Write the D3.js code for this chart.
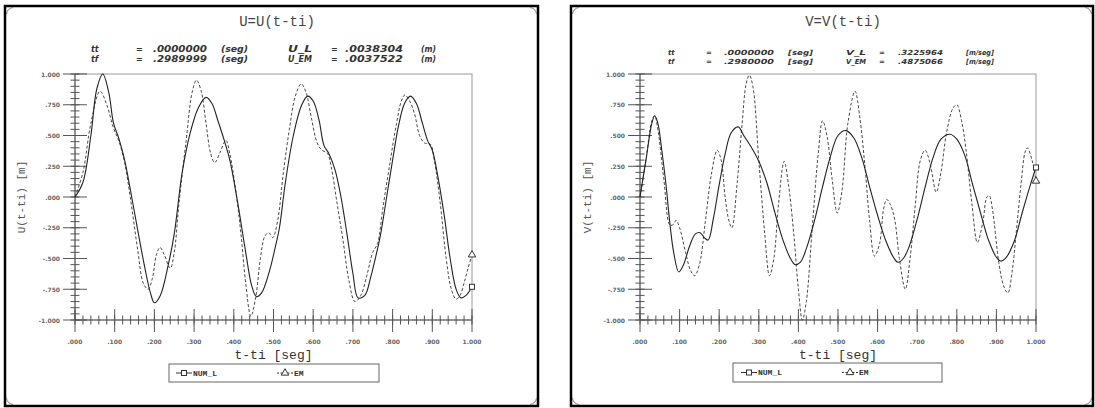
<!DOCTYPE html>
<html>
<head>
<meta charset="utf-8">
<script src="https://cdn.jsdelivr.net/npm/d3@7"></script>
<style>
  * { margin: 0; padding: 0; }
  body { background: #fff; }
  svg { display: block; }
  .mono { font-family: 'Liberation Mono', 'DejaVu Sans Mono', monospace; }
  .tick-label { font-family: 'DejaVu Sans', sans-serif; font-size: 6px; font-weight: bold; fill: #666; }
  .info { font-family: 'DejaVu Sans', sans-serif; font-style: italic; font-weight: bold; fill: #333; }
</style>
</head>
<body>
<svg id="chart" width="1095" height="408"></svg>
<script>
// ---- U panel (left) ----
const uNumT = [0, .02, .04, .055, .07, .085, .097, .11, .125, .14, .158, .175, .19, .2, .215, .235, .25, .27, .29, .31, .33, .345, .36, .375, .39, .41, .43, .445, .457, .47, .49, .505, .515, .53, .55, .57, .586, .6, .615, .627, .64, .655, .67, .685, .7, .713, .73, .745, .76, .77, .785, .8, .815, .83, .845, .86, .875, .888, .9, .915, .93, .945, .96, .972, .985, 1];
const uNumV = [0, .12, .5, .88, 1, .85, .6, .48, .3, .05, -.27, -.56, -.78, -.86, -.8, -.55, -.3, .2, .52, .72, .81, .76, .62, .47, .3, -.05, -.45, -.72, -.81, -.78, -.6, -.4, -.25, .12, .5, .74, .82, .78, .62, .42, .35, .22, 0, -.3, -.62, -.82, -.8, -.65, -.45, -.3, 0, .3, .58, .76, .82, .76, .6, .46, .38, .15, -.15, -.5, -.75, -.82, -.8, -.73];
const uEmT = [0, .02, .04, .063, .08, .097, .11, .125, .14, .158, .172, .184, .195, .205, .214, .225, .24, .25, .262, .28, .295, .306, .318, .33, .342, .352, .365, .38, .39, .405, .418, .43, .443, .455, .467, .478, .488, .498, .51, .525, .54, .555, .57, .582, .595, .61, .622, .635, .645, .66, .675, .69, .705, .72, .735, .75, .762, .775, .792, .81, .822, .831, .843, .855, .868, .88, .895, .905, .92, .935, .948, .96, .97, .98, .99, 1];
const uEmV = [0, .2, .6, .86, .75, .56, .46, .28, -.02, -.43, -.7, -.75, -.66, -.47, -.41, -.47, -.58, -.45, -.05, .46, .85, .95, .86, .6, .35, .28, .36, .46, .35, .05, -.3, -.7, -.97, -.82, -.5, -.32, -.29, -.33, -.2, .2, .55, .82, .92, .85, .65, .44, .38, .36, .25, -.05, -.35, -.68, -.85, -.8, -.64, -.45, -.38, -.1, .25, .6, .78, .83, .78, .68, .5, .44, .43, .3, -.05, -.5, -.75, -.83, -.8, -.7, -.58, -.47];
const uInfo = [
  ["tt", "=", ".0000000", "(seg)", "U_L", "=", ".0038304", "(m)"],
  ["tf", "=", ".2989999", "(seg)", "U_EM", "=", ".0037522", "(m)"]
];

// ---- V panel (right) ----
const vNumT = [0, .015, .03, .037, .045, .055, .065, .075, .085, .098, .11, .125, .14, .152, .162, .172, .185, .2, .215, .23, .248, .262, .28, .3, .32, .34, .36, .38, .392, .405, .42, .44, .46, .48, .5, .52, .54, .56, .58, .6, .62, .64, .651, .665, .68, .7, .72, .74, .76, .783, .8, .82, .84, .86, .88, .9, .91, .925, .945, .965, .985, 1];
const vNumV = [0, .3, .6, .66, .6, .38, .12, -.2, -.45, -.61, -.55, -.4, -.3, -.29, -.33, -.35, -.18, .1, .35, .52, .57, .5, .41, .29, .12, -.12, -.34, -.5, -.55, -.53, -.42, -.2, .07, .32, .5, .54, .48, .32, .08, -.15, -.35, -.49, -.53, -.5, -.4, -.18, .08, .32, .47, .51, .47, .34, .1, -.13, -.35, -.49, -.52, -.49, -.36, -.13, .09, .24];
const vEmT = [0, .015, .03, .037, .045, .06, .076, .085, .091, .1, .115, .128, .138, .15, .165, .18, .195, .205, .215, .225, .232, .245, .258, .268, .276, .285, .3, .315, .327, .338, .35, .364, .375, .388, .4, .41, .42, .435, .45, .461, .472, .485, .498, .51, .525, .543, .555, .568, .58, .592, .605, .615, .623, .632, .643, .655, .67, .682, .695, .708, .72, .732, .748, .76, .774, .79, .8, .812, .823, .838, .852, .866, .876, .882, .89, .906, .918, .929, .94, .95, .962, .972, .978, .99, 1];
const vEmV = [0, .3, .62, .66, .55, .15, -.23, -.22, -.19, -.25, -.45, -.6, -.64, -.55, -.2, .18, .38, .3, 0, -.2, -.25, .1, .6, .92, .99, .9, .3, -.3, -.64, -.5, -.05, .29, .1, -.29, -.75, -1, -.85, -.25, .35, .62, .5, .15, -.13, .05, .6, .86, .65, .25, -.2, -.48, -.38, -.1, -.02, -.06, -.18, -.5, -.75, -.5, -.07, .3, .38, .28, .04, .2, .52, .72, .75, .62, .39, -.05, -.37, -.2, 0, .01, -.1, -.53, -.72, -.78, -.6, -.29, .1, .36, .4, .3, .13];
const vInfo = [
  ["tt", "=", ".0000000", "[seg]", "V_L", "=", ".3225964", "[m/seg]"],
  ["tf", "=", ".2980000", "[seg]", "V_EM", "=", ".4875066", "[m/seg]"]
];

// ---- shared axes ----
const xMajor = [0, .1, .2, .3, .4, .5, .6, .7, .8, .9, 1];
const xMajorLabels = [".000", ".100", ".200", ".300", ".400", ".500", ".600", ".700", ".800", ".900", "1.000"];
const yMajor = [1, .75, .5, .25, 0, -.25, -.5, -.75, -1];
const yMajorLabels = ["1.000", ".750", ".500", ".250", ".000", "-.250", "-.500", "-.750", "-1.000"];
const xMinor = d3.range(0, 1.0001, 0.02);
const yMinor = d3.range(-1, 1.0001, 0.05);
const legendNames = ["NUM_L", "EM"];

const svg = d3.select("#chart");

function drawPanel(p) {
  const g = svg.append("g");

  // outer frame
  g.append("rect")
    .attr("x", p.frame[0]).attr("y", p.frame[1])
    .attr("width", p.frame[2] - p.frame[0]).attr("height", p.frame[3] - p.frame[1])
    .attr("fill", "#fff").attr("stroke", "#000").attr("stroke-width", 2.5);
  // little rounded corner marks
  const r = 7, [fx0, fy0, fx1, fy1] = p.frame;
  const corners = [
    `M${fx0 + 1.5},${fy0 + r + 1} A${r},${r} 0 0 1 ${fx0 + r + 1},${fy0 + 1.5}`,
    `M${fx1 - r - 1},${fy0 + 1.5} A${r},${r} 0 0 1 ${fx1 - 1.5},${fy0 + r + 1}`,
    `M${fx0 + 1.5},${fy1 - r - 1} A${r},${r} 0 0 0 ${fx0 + r + 1},${fy1 - 1.5}`,
    `M${fx1 - r - 1},${fy1 - 1.5} A${r},${r} 0 0 0 ${fx1 - 1.5},${fy1 - r - 1}`
  ];
  g.selectAll("path.corner").data(corners).join("path")
    .attr("class", "corner").attr("d", d => d)
    .attr("fill", "none").attr("stroke", "#777").attr("stroke-width", 1);

  const x = d3.scaleLinear().domain([0, 1]).range([p.x0, p.x1]);
  const y = d3.scaleLinear().domain([-1, 1]).range([p.y1, p.y0]);

  // title
  g.append("text").attr("class", "mono")
    .attr("x", p.titleX).attr("y", 22)
    .attr("text-anchor", "middle").attr("dominant-baseline", "central")
    .attr("font-size", 14).attr("fill", "#444").text(p.title);

  // info rows
  p.info.forEach((row, i) => {
    row.forEach((s, j) => {
      const t = g.append("text").attr("class", "info")
        .attr("x", p.infoX[j]).attr("y", p.infoY[i])
        .attr("dominant-baseline", "central")
        .attr("font-size", p.infoSize).text(s);
      if (p.infoW[j]) t.attr("textLength", p.infoW[j]).attr("lengthAdjust", "spacingAndGlyphs");
    });
  });

  // plot box
  g.append("rect")
    .attr("x", x(0)).attr("y", y(1))
    .attr("width", x(1) - x(0)).attr("height", y(-1) - y(1))
    .attr("fill", "none").attr("stroke", "#999").attr("stroke-width", 1);

  // y axis ticks
  g.selectAll("line.ymin").data(yMinor).join("line")
    .attr("x1", x(0) - 4.5).attr("x2", x(0) + 4.5)
    .attr("y1", d => y(d)).attr("y2", d => y(d))
    .attr("stroke", "#555").attr("stroke-width", 1);
  g.selectAll("line.ymaj").data(yMajor).join("line")
    .attr("x1", x(0) - 12).attr("x2", x(0) + 12)
    .attr("y1", d => y(d)).attr("y2", d => y(d))
    .attr("stroke", "#555").attr("stroke-width", 1);
  g.selectAll("text.ylab").data(yMajor).join("text")
    .attr("class", "tick-label")
    .attr("x", x(0) - 15).attr("y", d => y(d))
    .attr("text-anchor", "end").attr("dominant-baseline", "central")
    .text((d, i) => yMajorLabels[i]);

  // x axis ticks
  g.selectAll("line.xmin").data(xMinor).join("line")
    .attr("x1", d => x(d)).attr("x2", d => x(d))
    .attr("y1", y(-1) - 4.5).attr("y2", y(-1) + 4.5)
    .attr("stroke", "#555").attr("stroke-width", 1);
  g.selectAll("line.xmaj").data(xMajor).join("line")
    .attr("x1", d => x(d)).attr("x2", d => x(d))
    .attr("y1", y(-1) - 11).attr("y2", y(-1) + 12)
    .attr("stroke", "#555").attr("stroke-width", 1);
  g.selectAll("text.xlab").data(xMajor).join("text")
    .attr("class", "tick-label")
    .attr("x", d => x(d)).attr("y", y(-1) + 21)
    .attr("text-anchor", "middle").attr("dominant-baseline", "central")
    .text((d, i) => xMajorLabels[i]);
  // axis lines on top
  g.append("line").attr("x1", x(0)).attr("x2", x(0)).attr("y1", y(1)).attr("y2", y(-1))
    .attr("stroke", "#555");
  g.append("line").attr("x1", x(0)).attr("x2", x(1)).attr("y1", y(-1)).attr("y2", y(-1))
    .attr("stroke", "#555");

  // axis titles
  g.append("text").attr("class", "mono")
    .attr("transform", `translate(${p.yLabX},${(y(1) + y(-1)) / 2}) rotate(-90)`)
    .attr("text-anchor", "middle").attr("dominant-baseline", "central")
    .attr("font-size", 11).attr("fill", "#555").text(p.yLabel);
  g.append("text").attr("class", "mono")
    .attr("x", (x(0) + x(1)) / 2).attr("y", 355)
    .attr("text-anchor", "middle").attr("dominant-baseline", "central")
    .attr("font-size", 13).attr("fill", "#333").text("t-ti [seg]");

  // curves
  const line = d3.line().x(d => x(d[0])).y(d => y(d[1])).curve(d3.curveCatmullRom.alpha(0.5));
  const num = p.numT.map((t, i) => [t, p.numV[i]]);
  const em = p.emT.map((t, i) => [t, p.emV[i]]);
  g.append("path").datum(em).attr("d", line)
    .attr("fill", "none").attr("stroke", "#333").attr("stroke-width", 0.9)
    .attr("stroke-dasharray", "3,2");
  g.append("path").datum(num).attr("d", line)
    .attr("fill", "none").attr("stroke", "#222").attr("stroke-width", 1.1);

  // end markers
  const lastN = num[num.length - 1], lastE = em[em.length - 1];
  g.append("rect").attr("x", x(lastN[0]) - 2.5).attr("y", y(lastN[1]) - 2.5)
    .attr("width", 5).attr("height", 5).attr("fill", "#fff").attr("stroke", "#333");
  g.append("path").attr("d", d3.symbol(d3.symbolTriangle, 24)())
    .attr("transform", `translate(${x(lastE[0])},${y(lastE[1])})`)
    .attr("fill", "#fff").attr("stroke", "#333");

  // legend
  const [lx0, ly0, lx1, ly1] = p.legend;
  g.append("rect").attr("x", lx0).attr("y", ly0).attr("width", lx1 - lx0).attr("height", ly1 - ly0)
    .attr("fill", "#fff").attr("stroke", "#666");
  const ly = (ly0 + ly1) / 2;
  legendNames.forEach((name, i) => {
    const sx = p.legendX[i];
    g.append("line").attr("x1", sx).attr("x2", sx + 16).attr("y1", ly).attr("y2", ly)
      .attr("stroke", "#333").attr("stroke-dasharray", i ? "2,1.5" : null);
    if (i === 0) {
      g.append("rect").attr("x", sx + 5.5).attr("y", ly - 2.5).attr("width", 5).attr("height", 5)
        .attr("fill", "#fff").attr("stroke", "#333");
    } else {
      g.append("path").attr("d", d3.symbol(d3.symbolTriangle, 24)())
        .attr("transform", `translate(${sx + 8},${ly})`).attr("fill", "#fff").attr("stroke", "#333");
    }
    g.append("text").attr("class", "mono").attr("x", sx + 17).attr("y", ly)
      .attr("dominant-baseline", "central").attr("font-size", 8).attr("font-weight", "bold")
      .attr("fill", "#333").text(name);
  });
}

drawPanel({
  frame: [5, 6, 538, 406], x0: 75, x1: 472, y0: 74, y1: 320,
  title: "U=U(t-ti)", titleX: 277, yLabel: "U(t-ti) [m]", yLabX: 22,
  info: uInfo, infoX: [91, 136, 153, 221, 288, 331, 345, 421], infoY: [49, 59], infoSize: 8,
  infoW: [null, null, 54, 27, 24, null, 58, 15],
  numT: uNumT, numV: uNumV, emT: uEmT, emV: uEmV,
  legend: [169, 364, 379, 382], legendX: [176, 277]
});

drawPanel({
  frame: [571, 6, 1093, 406], x0: 640, x1: 1036, y0: 74, y1: 320,
  title: "V=V(t-ti)", titleX: 843, yLabel: "V(t-ti) [m]", yLabX: 588,
  info: vInfo, infoX: [668, 706, 724, 788, 846, 879, 898, 966], infoY: [53, 62], infoSize: 7,
  infoW: [null, null, 50, 25, 20, null, 45, 28],
  numT: vNumT, numV: vNumV, emT: vEmT, emV: vEmV,
  legend: [733, 363, 942, 382], legendX: [741, 842]
});
</script>
</body>
</html>
